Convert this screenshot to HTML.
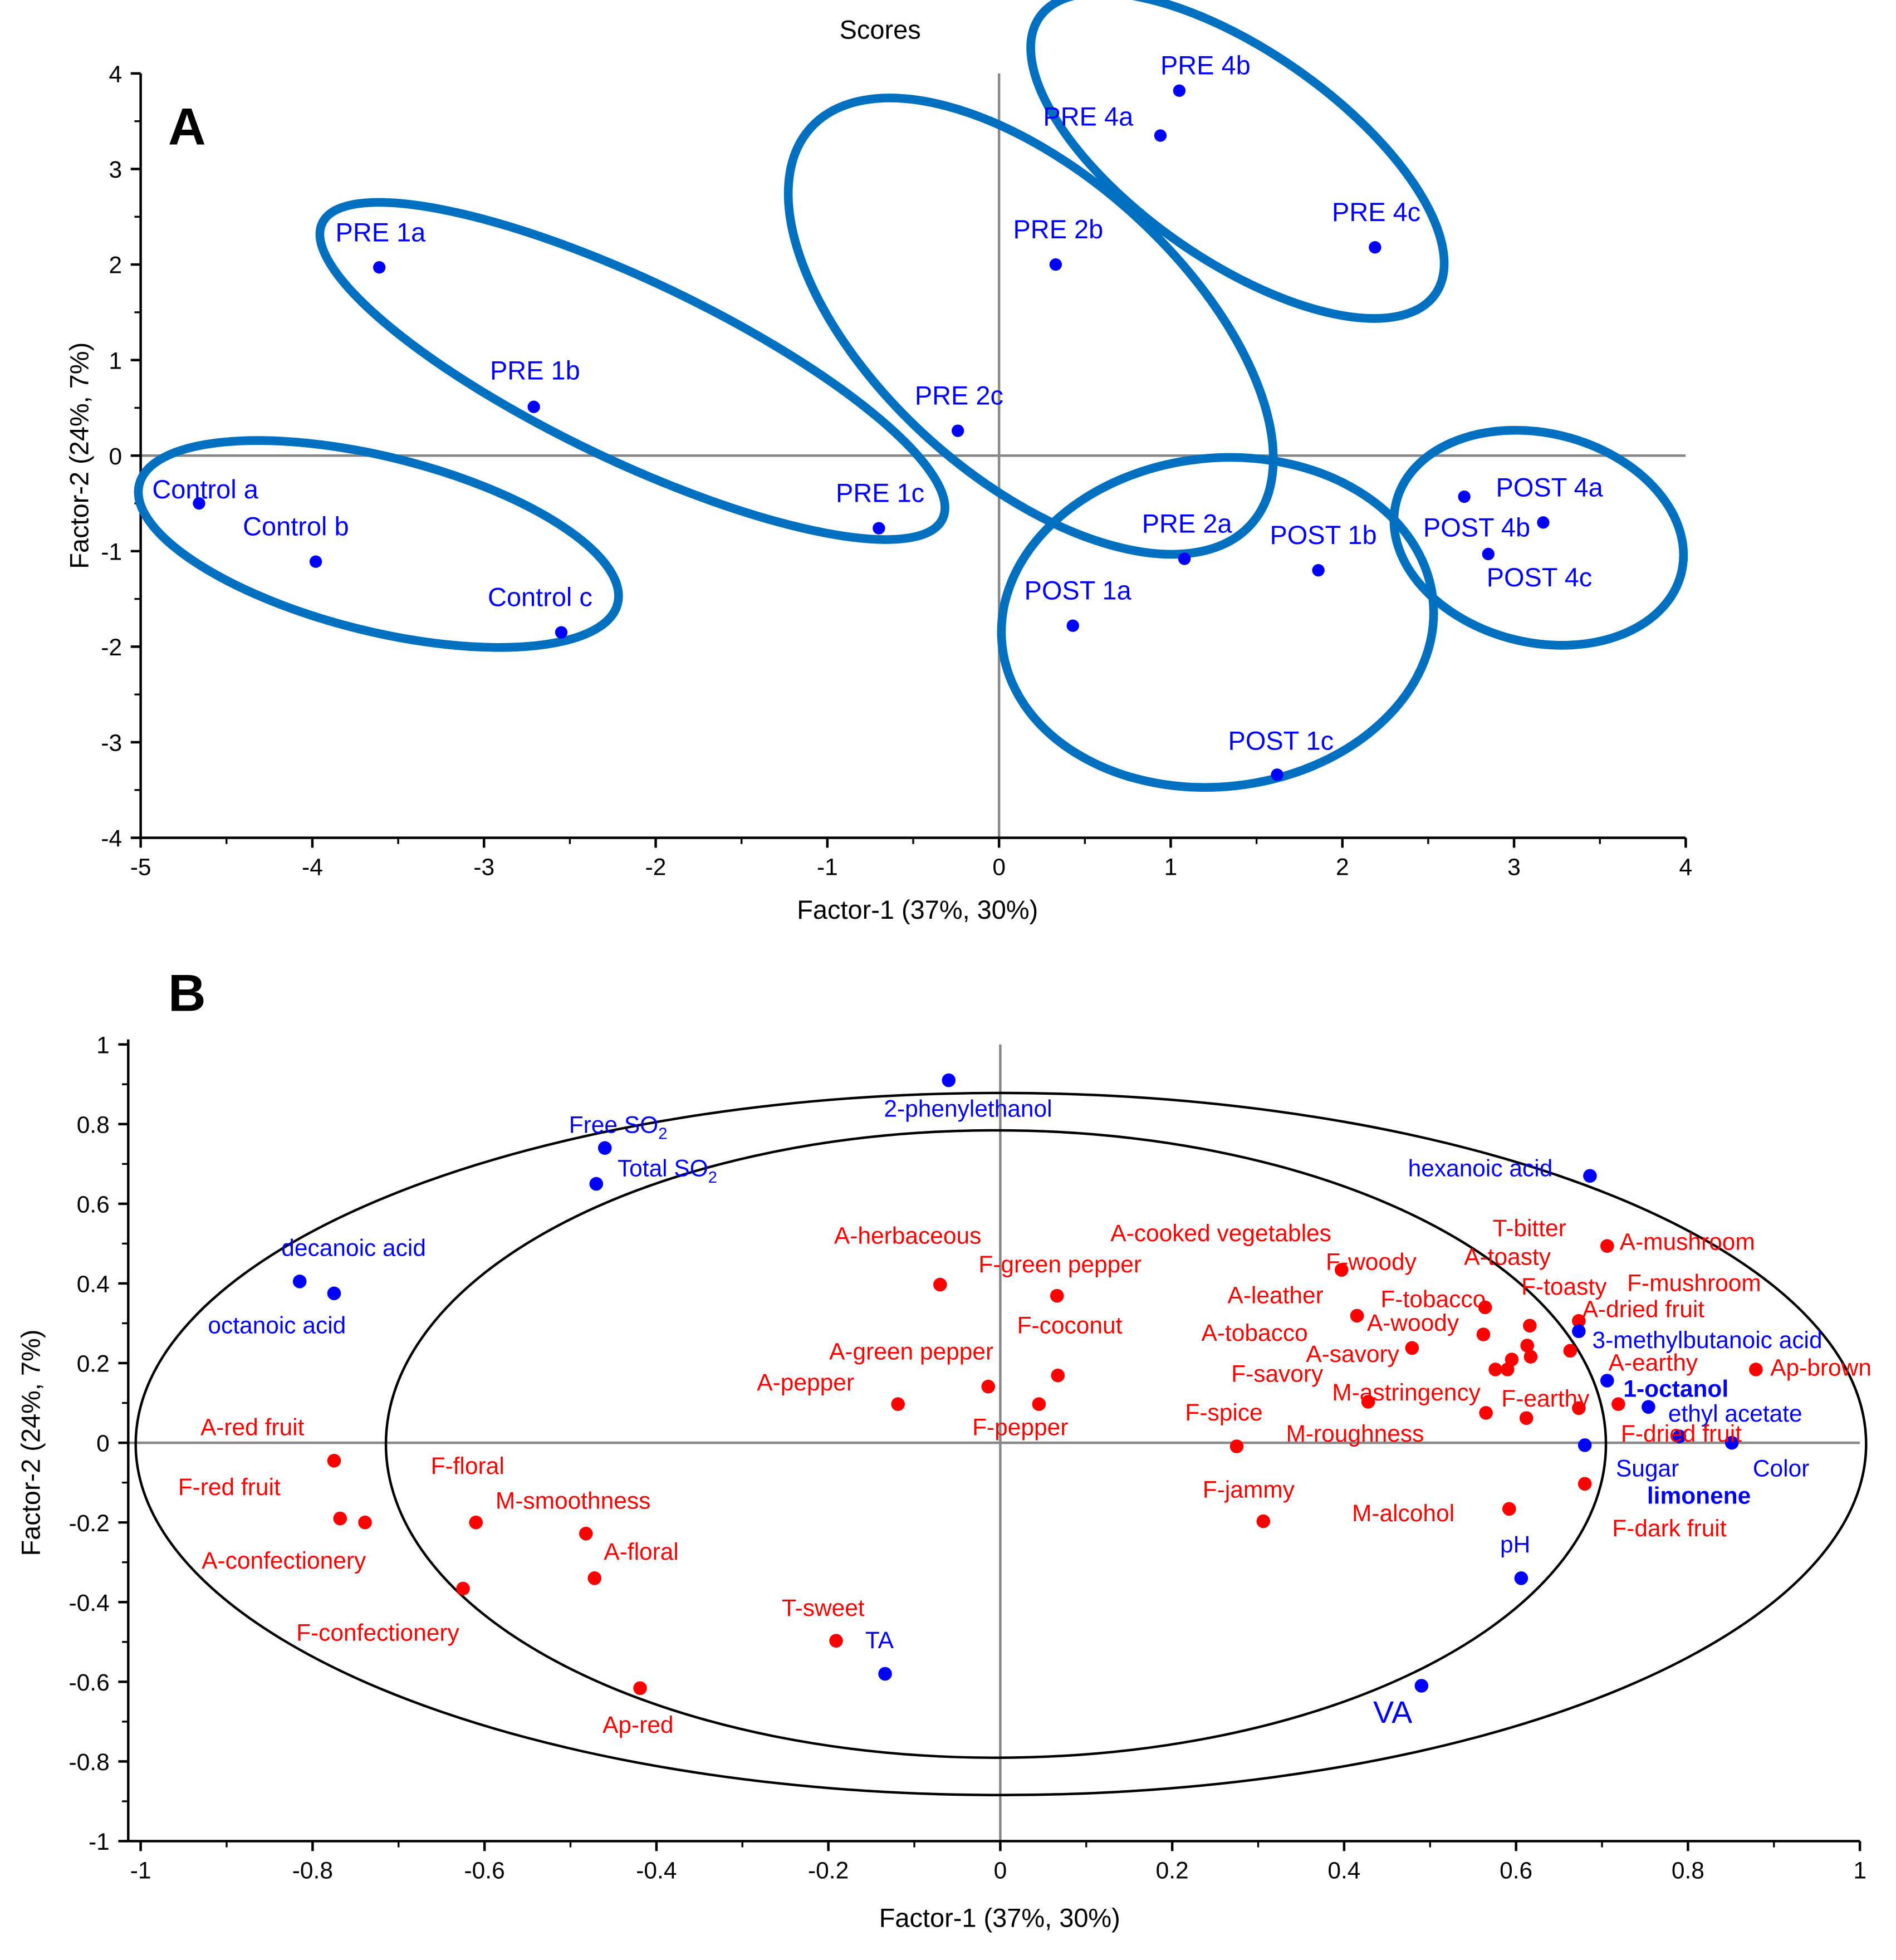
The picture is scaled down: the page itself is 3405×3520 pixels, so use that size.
<!DOCTYPE html>
<html><head><meta charset="utf-8"><style>
html,body{margin:0;padding:0;background:#fff}
svg{display:block}
text{font-family:"Liberation Sans",sans-serif}
</style></head><body>
<svg id="fig" width="3405" height="3520" viewBox="0 0 1523 1574.5" preserveAspectRatio="none" xmlns="http://www.w3.org/2000/svg">
<g id="pa"></g>
<g id="pb"></g>
</svg>
<script>
// ===== Panel A data =====
const scoreLabels = ["Control a","Control b","Control c","PRE 1a","PRE 1b","PRE 1c","PRE 2a","PRE 2b","PRE 2c","PRE 4a","PRE 4b","PRE 4c","POST 1a","POST 1b","POST 1c","POST 4a","POST 4b","POST 4c"];
const scoreX = [-4.66,-3.98,-2.55,-3.61,-2.71,-0.70,1.08,0.33,-0.24,0.94,1.05,2.19,0.43,1.86,1.62,3.17,2.71,2.85];
const scoreY = [-0.50,-1.11,-1.85,1.97,0.51,-0.76,-1.08,2.00,0.26,3.35,3.82,2.18,-1.78,-1.20,-3.34,-0.70,-0.43,-1.03];
const scoreXTicks = [-5,-4,-3,-2,-1,0,1,2,3,4];
const scoreYTicks = [-4,-3,-2,-1,0,1,2,3,4];
// ===== Panel B data =====
const loadLabels = ["2-phenylethanol","Free SO2","Total SO2","decanoic acid","octanoic acid","hexanoic acid","3-methylbutanoic acid","1-octanol","ethyl acetate","Sugar","Color","limonene","pH","VA","TA"];
const loadX = [-0.06,-0.46,-0.47,-0.815,-0.775,0.686,0.673,0.706,0.754,0.79,0.851,0.68,0.606,0.49,-0.134];
const loadY = [0.91,0.74,0.65,0.405,0.375,0.67,0.28,0.156,0.09,0.016,0.0,-0.006,-0.34,-0.61,-0.58];
const attrX = [-0.775,-0.768,-0.739,-0.61,-0.625,-0.482,-0.472,-0.419,-0.191,-0.07,0.066,-0.119,-0.014,0.067,0.045,0.275,0.306,0.397,0.415,0.428,0.479,0.564,0.562,0.565,0.616,0.613,0.617,0.595,0.576,0.59,0.612,0.663,0.673,0.673,0.706,0.719,0.879,0.68,0.592];
const attrY = [-0.045,-0.19,-0.2,-0.2,-0.366,-0.228,-0.34,-0.616,-0.497,0.397,0.369,0.097,0.141,0.169,0.097,-0.009,-0.197,0.434,0.319,0.103,0.238,0.34,0.272,0.075,0.294,0.244,0.216,0.209,0.184,0.184,0.062,0.231,0.306,0.087,0.494,0.097,0.184,-0.103,-0.166];
const loadXTicks = [-1,-0.8,-0.6,-0.4,-0.2,0,0.2,0.4,0.6,0.8,1];
const loadYTicks = [-1,-0.8,-0.6,-0.4,-0.2,0,0.2,0.4,0.6,0.8,1];

const NS="http://www.w3.org/2000/svg";
function mk(parent,tag,attrs,txt){const e=document.createElementNS(NS,tag);for(const k in attrs)e.setAttribute(k,attrs[k]);if(txt!==undefined)e.textContent=txt;parent.appendChild(e);return e;}

// ---------- Panel A ----------
const pa=document.getElementById('pa');
const ax=v=>802.5+v*137.9, ay=v=>366-v*76.75;
mk(pa,'text',{x:707,y:31,'font-size':21,'text-anchor':'middle',fill:'#000'},'Scores');
const la=mk(pa,'text',{x:135,y:116,'font-size':42,'font-weight':'bold','font-family':'Liberation Serif, serif'},'A');

mk(pa,'line',{x1:113,x2:1354,y1:ay(0),y2:ay(0),stroke:'#888','stroke-width':2});
mk(pa,'line',{x1:ax(0),x2:ax(0),y1:59,y2:673,stroke:'#888','stroke-width':2});
mk(pa,'line',{x1:113,x2:113,y1:59,y2:673,stroke:'#000','stroke-width':2});
mk(pa,'line',{x1:113,x2:1354,y1:673,y2:673,stroke:'#000','stroke-width':2});
scoreXTicks.forEach((t,i)=>{
  const l=mk(pa,'line',{x1:ax(t),x2:ax(t),y1:673,y2:681,stroke:'#000','stroke-width':2});
  
  if(i<scoreXTicks.length-1){const m=mk(pa,'line',{x1:ax(t+0.5),x2:ax(t+0.5),y1:673,y2:678,stroke:'#000','stroke-width':1.5});}
  const tx=mk(pa,'text',{x:ax(t),y:703,'font-size':19,'text-anchor':'middle'},String(t));
  
});
scoreYTicks.forEach((t,i)=>{
  const l=mk(pa,'line',{x1:105,x2:113,y1:ay(t),y2:ay(t),stroke:'#000','stroke-width':2});
  
  if(i<scoreYTicks.length-1){const m=mk(pa,'line',{x1:108,x2:113,y1:ay(t+0.5),y2:ay(t+0.5),stroke:'#000','stroke-width':1.5});}
  const tx=mk(pa,'text',{x:98,y:ay(t)+7,'font-size':19,'text-anchor':'end'},String(t));
  
});
const axl=mk(pa,'text',{x:737,y:738,'font-size':21,'text-anchor':'middle'},'Factor-1 (37%, 30%)');

const ayl=mk(pa,'text',{x:0,y:0,'font-size':21,'text-anchor':'middle',transform:'translate(71,366) rotate(-90)'},'Factor-2 (24%, 7%)');

const ells=[[304,437,198,70,14],[508,298,276,72,25.5],[828,262,238,122,42],[994,125,194,84,35],[978,500,174,132,-6],[1236,432,118,84,14]];
ells.forEach(e=>{
  const el=mk(pa,'ellipse',{cx:e[0],cy:e[1],rx:e[2],ry:e[3],transform:`rotate(${e[4]} ${e[0]} ${e[1]})`,fill:'none',stroke:'#0070c0','stroke-width':7});
  
});
const scoreLabelOffsets=[[5,-11],[-16,-28],[-17,-28],[1,-28],[1,-29],[1,-28],[2,-28],[2,-28],[1,-28],[-58,-15],[21,-20],[1,-28],[4,-28],[4,-28],[3,-27],[5,-28],[10,25],[41,19]];
scoreX.forEach((v,i)=>{
  const c=mk(pa,'circle',{cx:ax(v),cy:ay(scoreY[i]),r:5,fill:'#0000ff'});
  
  const o=scoreLabelOffsets[i];
  const t=mk(pa,'text',{x:ax(v)+o[0],y:ay(scoreY[i])+o[1]+7,'font-size':21,'text-anchor':'middle',fill:'#0000ff'},scoreLabels[i]);
  
});

// ---------- Panel B ----------
const pb=document.getElementById('pb');
const bx=v=>803.5+v*690.5, by=v=>1159-v*320;
const lb=mk(pb,'text',{x:135,y:812,'font-size':42,'font-weight':'bold','font-family':'Liberation Serif, serif'},'B');

mk(pb,'line',{x1:103,x2:1494,y1:by(0),y2:by(0),stroke:'#888','stroke-width':2});
mk(pb,'line',{x1:bx(0),x2:bx(0),y1:839,y2:1479,stroke:'#888','stroke-width':2});
mk(pb,'ellipse',{cx:804,cy:1160,rx:695,ry:282,fill:'none',stroke:'#000','stroke-width':2});
mk(pb,'ellipse',{cx:800,cy:1160,rx:490,ry:252,fill:'none',stroke:'#000','stroke-width':2});
mk(pb,'line',{x1:103,x2:103,y1:835,y2:1479,stroke:'#000','stroke-width':2});
mk(pb,'line',{x1:103,x2:1494,y1:1479,y2:1479,stroke:'#000','stroke-width':2});
loadXTicks.forEach((t,i)=>{
  const l=mk(pb,'line',{x1:bx(t),x2:bx(t),y1:1479,y2:1487,stroke:'#000','stroke-width':2});
  
  if(i<loadXTicks.length-1){const m=mk(pb,'line',{x1:bx(t+0.1),x2:bx(t+0.1),y1:1479,y2:1484,stroke:'#000','stroke-width':1.5});}
  const tx=mk(pb,'text',{x:bx(t),y:1509,'font-size':19,'text-anchor':'middle'},String(t));
  
});
loadYTicks.forEach((t,i)=>{
  const l=mk(pb,'line',{x1:95,x2:103,y1:by(t),y2:by(t),stroke:'#000','stroke-width':2});
  
  if(i<loadYTicks.length-1){const m=mk(pb,'line',{x1:98,x2:103,y1:by(t+0.1),y2:by(t+0.1),stroke:'#000','stroke-width':1.5});}
  const tx=mk(pb,'text',{x:88,y:by(t)+7,'font-size':19,'text-anchor':'end'},String(t));
  
});
const bxl=mk(pb,'text',{x:803,y:1548,'font-size':21,'text-anchor':'middle'},'Factor-1 (37%, 30%)');

const byl=mk(pb,'text',{x:0,y:0,'font-size':21,'text-anchor':'middle',transform:'translate(32,1159) rotate(-90)'},'Factor-2 (24%, 7%)');

attrX.forEach((v,i)=>{
  const c=mk(pb,'circle',{cx:bx(v),cy:by(attrY[i]),r:5.5,fill:'#ff0000'});
  
});
loadX.forEach((v,i)=>{
  const c=mk(pb,'circle',{cx:bx(v),cy:by(loadY[i]),r:5.5,fill:'#0000ff'});
  
});
const bLabels=[
["2-phenylethanol",710,890,'b'],["Free SO|2",457,903,'b'],["Total SO|2",496,938,'b'],["decanoic acid",226,1002,'b'],["octanoic acid",167,1064,'b'],["hexanoic acid",1131,938,'b'],
["A-herbaceous",670,992,'r'],["F-green pepper",786,1015,'r'],["A-cooked vegetables",892,990,'r'],["F-woody",1065,1013,'r'],["T-bitter",1199,986,'r'],["A-mushroom",1301,997,'r'],["A-toasty",1176,1009,'r'],["F-mushroom",1307,1030,'r'],["A-leather",986,1040,'r'],["F-tobacco",1109,1043,'r'],["F-toasty",1222,1033,'r'],["A-dried fruit",1271,1051,'r'],["F-coconut",817,1064,'r'],["A-woody",1098,1062,'r'],["A-tobacco",965,1070,'r'],["3-methylbutanoic acid",1279,1076,'b'],["A-green pepper",666,1085,'r'],["A-savory",1049,1087,'r'],["A-earthy",1292,1094,'r'],["Ap-brown",1422,1098,'r'],["F-savory",989,1103,'r'],["A-pepper",608,1110,'r'],["M-astringency",1070,1118,'r'],["F-earthy",1206,1123,'r'],["1-octanol",1304,1115,'B'],["ethyl acetate",1340,1135,'b'],["F-spice",952,1134,'r'],["F-pepper",781,1146,'r'],["A-red fruit",161,1146,'r'],["M-roughness",1033,1151,'r'],["F-dried fruit",1302,1151,'r'],["F-floral",346,1177,'r'],["Sugar",1298,1179,'b'],["Color",1408,1179,'b'],["F-red fruit",143,1194,'r'],["F-jammy",966,1196,'r'],["limonene",1323,1201,'B'],["M-smoothness",398,1205,'r'],["M-alcohol",1086,1215,'r'],["F-dark fruit",1295,1227,'r'],["A-floral",485,1246,'r'],["A-confectionery",162,1253,'r'],["pH",1205,1240,'b'],["T-sweet",628,1291,'r'],["TA",695,1317,'b'],["F-confectionery",238,1311,'r'],["VA",1103,1377,'V'],["Ap-red",484,1385,'r']];
bLabels.forEach(l=>{
  const col=l[3]==='r'?'#ff0000':'#0000ff';
  const fs=l[3]==='V'?25:19;
  const t=mk(pb,'text',{x:l[1],y:l[2]+7,'font-size':fs,fill:col,'font-weight':l[3]==='B'?'bold':'normal'});
  
  const parts=l[0].split('|');
  t.appendChild(document.createTextNode(parts[0]));
  if(parts[1]){mk(t,'tspan',{'font-size':13,dy:5},parts[1]);}
});
</script>
</body></html>
